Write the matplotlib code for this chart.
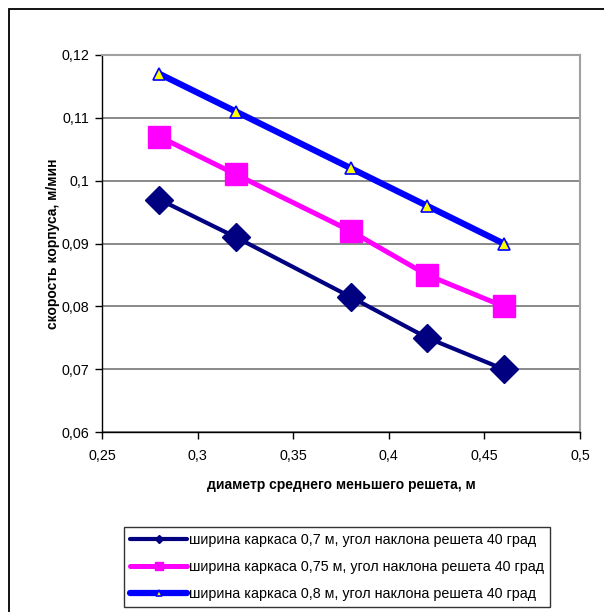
import matplotlib
matplotlib.use("Agg")
import matplotlib.pyplot as plt
from matplotlib.patches import Rectangle

plt.rcParams['font.family'] = ['Liberation Sans', 'DejaVu Sans']

# data
diam = [0.28, 0.32, 0.38, 0.42, 0.46]
speed_07 = [0.097, 0.091, 0.0815, 0.075, 0.070]
speed_075 = [0.107, 0.101, 0.092, 0.085, 0.080]
speed_08 = [0.117, 0.111, 0.102, 0.096, 0.090]
labels = ['ширина каркаса 0,7 м, угол наклона решета 40 град',
          'ширина каркаса 0,75 м, угол наклона решета 40 град',
          'ширина каркаса 0,8 м, угол наклона решета 40 град']
xticks = [0.25, 0.3, 0.35, 0.4, 0.45, 0.5]
yticks = [0.06, 0.07, 0.08, 0.09, 0.1, 0.11, 0.12]

fig = plt.figure(figsize=(6.04, 6.12), dpi=100)
ax = fig.add_axes([102 / 604, 1 - 432 / 612, 478 / 604, 377 / 612])

l1, = ax.plot(diam, speed_07, color='#000080', lw=3.0, marker='D', ms=14,
              mfc='#000080', mec='#000080', clip_on=False, zorder=3)
l2, = ax.plot(diam, speed_075, color='#FF00FF', lw=3.6, marker='s', ms=16.5,
              mfc='#FF00FF', mec='#FF00FF', clip_on=False, zorder=3)
l3, = ax.plot(diam, speed_08, color='#0000FF', lw=4.5, marker='^', ms=8,
              mfc='#FFFF00', mec='#0000FF', mew=1.2, clip_on=False, zorder=3)

ax.set_xlim(0.25, 0.5)
ax.set_ylim(0.06, 0.12)
ax.set_xticks(xticks)
ax.set_yticks(yticks)
ax.set_xticklabels([('%g' % v).replace('.', ',') for v in xticks])
ax.set_yticklabels([('%g' % v).replace('.', ',') for v in yticks])
ax.tick_params(labelsize=10.3, length=5, width=1, color='black', direction='out', pad=4)
ax.tick_params(axis='x', pad=7)
ax.yaxis.grid(True, color='#808080', lw=1.3)
ax.set_axisbelow(True)
for side in ['top', 'right']:
    ax.spines[side].set_color('#a0a0a0')
    ax.spines[side].set_linewidth(1.5)
for side in ['left', 'bottom']:
    ax.spines[side].set_color('black')
    ax.spines[side].set_linewidth(1)

ax.set_xlabel('диаметр среднего меньшего решета, м', fontsize=10, fontweight='bold', labelpad=11)
ax.set_ylabel('скорость корпуса, м/мин', fontsize=10, fontweight='bold', labelpad=1)

leg = fig.legend([l1, l2, l3], labels, loc='center',
                 bbox_to_anchor=(337 / 604, 1 - 567 / 612), fontsize=10.3,
                 numpoints=1, handlelength=4.0, handletextpad=0.1,
                 labelspacing=0.9, borderpad=0.45, fancybox=False)
leg.get_frame().set_edgecolor('black')
leg.get_frame().set_linewidth(1)
for h, ms in zip(leg.legend_handles, [4.5, 6, 4.5]):
    h.set_markersize(ms)
    h.set_solid_capstyle('round')

# outer chart border
fig.patches.append(Rectangle((9 / 604, -0.1), 1.2, 1 - 9 / 612 + 0.1,
                             transform=fig.transFigure, fill=False,
                             edgecolor='black', lw=1.3))

fig.savefig('out.png', dpi=100)
